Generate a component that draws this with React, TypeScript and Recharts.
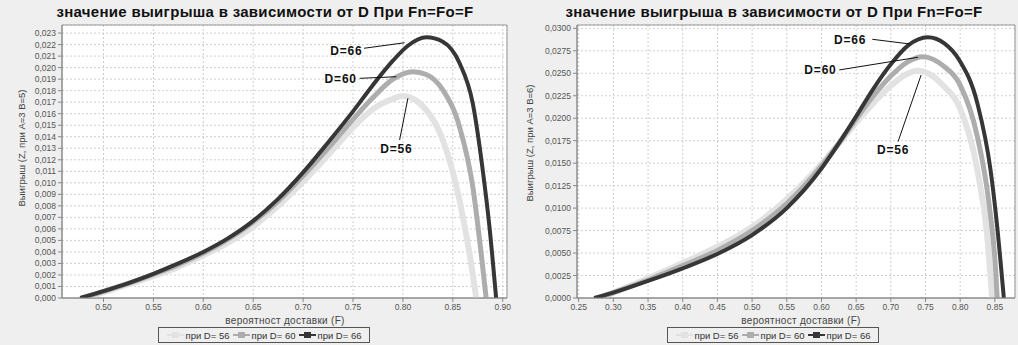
import React from 'react';
import { LineChart, Line, XAxis, YAxis, CartesianGrid, ReferenceLine, ReferenceDot, ReferenceArea } from 'recharts';

const TITLE = 'значение выигрыша в зависимости от D При Fn=Fo=F';
const X_LABEL = 'вероятност доставки (F)';
const Y_LABEL_L = 'Выигрыш (Z, при A=3 B=5)';
const Y_LABEL_R = 'Выигрыш (Z, при A=3 B=6)';
const SERIES_NAMES = ['при D= 56', 'при D= 60', 'при D= 66'];
const SERIES_COLORS = ['#e2e2e2', '#adadad', '#363636'];
const SERIES_WIDTHS = [6, 5, 4];

// ---- left chart (A=3, B=5) ----
const L_F56 = [0.482, 0.5, 0.525, 0.55, 0.575, 0.6, 0.625, 0.65, 0.675, 0.7, 0.725, 0.75, 0.77, 0.79, 0.8, 0.8234, 0.84, 0.8567, 0.8667, 0.8734];
const L_Z56 = [0, 0.0005, 0.0012, 0.0019, 0.0027, 0.0037, 0.0048, 0.0062, 0.008, 0.0101, 0.0124, 0.0148, 0.0164, 0.0173, 0.01753, 0.01632, 0.01372, 0.0085, 0.00388, 0];
const L_F60 = [0.478, 0.5, 0.525, 0.55, 0.575, 0.6, 0.625, 0.65, 0.675, 0.7, 0.725, 0.75, 0.77, 0.79, 0.81, 0.8234, 0.84, 0.8567, 0.87, 0.8784, 0.8834];
const L_Z60 = [0, 0.00058, 0.00127, 0.00205, 0.0029, 0.0039, 0.0051, 0.0066, 0.0084, 0.0106, 0.013, 0.0155, 0.0174, 0.019, 0.01965, 0.0194, 0.01806, 0.01487, 0.00966, 0.00388, 0];
const L_F66 = [0.4767, 0.5, 0.525, 0.55, 0.575, 0.6, 0.625, 0.65, 0.675, 0.7, 0.725, 0.75, 0.77, 0.79, 0.805, 0.8234, 0.84, 0.8567, 0.87, 0.88, 0.8867, 0.8934];
const L_Z66 = [0, 0.0006, 0.0013, 0.0021, 0.003, 0.004, 0.0052, 0.0067, 0.0086, 0.0109, 0.0135, 0.0162, 0.0185, 0.0206, 0.0219, 0.02263, 0.02225, 0.0204, 0.0169, 0.0111, 0.0062, 0];
const L_XDOMAIN = [0.4584, 0.9043];
const L_YDOMAIN = [0, 0.0237];
const L_XTICKS = [0.5, 0.55, 0.6, 0.65, 0.7, 0.75, 0.8, 0.85, 0.9];
const L_YTICKS = [0, 0.001, 0.002, 0.003, 0.004, 0.005, 0.006, 0.007, 0.008, 0.009, 0.01, 0.011, 0.012, 0.013, 0.014, 0.015, 0.016, 0.017, 0.018, 0.019, 0.02, 0.021, 0.022, 0.023];
const L_ANN = [
  { label: 'D=66', tx: 0.7434, ty: 0.02147, x1: 0.761, y1: 0.02168, x2: 0.8017, y2: 0.02216 },
  { label: 'D=60', tx: 0.7377, ty: 0.01907, x1: 0.7567, y1: 0.01907, x2: 0.7934, y2: 0.01921 },
  { label: 'D=56', tx: 0.7934, ty: 0.013, x1: 0.7967, y1: 0.01372, x2: 0.805, y2: 0.01734 },
];

// ---- right chart (A=3, B=6) ----
const R_F56 = [0.28, 0.3, 0.35, 0.4, 0.45, 0.5, 0.55, 0.6, 0.625, 0.65, 0.675, 0.7, 0.72, 0.739, 0.76, 0.7771, 0.7986, 0.8247, 0.839, 0.8461];
const R_Z56 = [0, 0.0006, 0.0022, 0.0039, 0.0057, 0.0079, 0.011, 0.0149, 0.0172, 0.0195, 0.0217, 0.0236, 0.0248, 0.02529, 0.0247, 0.02351, 0.0213, 0.01426, 0.00685, 0];
const R_F60 = [0.277, 0.3, 0.35, 0.4, 0.45, 0.5, 0.55, 0.6, 0.625, 0.65, 0.675, 0.7, 0.725, 0.746, 0.7771, 0.7986, 0.8247, 0.8414, 0.851, 0.8533];
const R_Z60 = [0, 0.0006, 0.002, 0.0036, 0.0053, 0.0075, 0.0105, 0.0147, 0.0172, 0.0199, 0.0225, 0.0247, 0.0263, 0.02685, 0.02574, 0.02389, 0.01796, 0.01056, 0.00315, 0];
const R_F66 = [0.2723, 0.3, 0.35, 0.4, 0.45, 0.5, 0.55, 0.6, 0.625, 0.65, 0.675, 0.7, 0.725, 0.7533, 0.7771, 0.7986, 0.8247, 0.8437, 0.8533, 0.8629];
const R_Z66 = [0, 0.0006, 0.0019, 0.0033, 0.0049, 0.007, 0.01, 0.0144, 0.0172, 0.0202, 0.0233, 0.026, 0.0281, 0.029, 0.02833, 0.02648, 0.02167, 0.01426, 0.00796, 0];
const R_XDOMAIN = [0.2476, 0.879];
const R_YDOMAIN = [0, 0.03037];
const R_XTICKS = [0.25, 0.3, 0.35, 0.4, 0.45, 0.5, 0.55, 0.6, 0.65, 0.7, 0.75, 0.8, 0.85];
const R_YTICKS = [0, 0.0025, 0.005, 0.0075, 0.01, 0.0125, 0.015, 0.0175, 0.02, 0.0225, 0.025, 0.0275, 0.03];
const R_ANN = [
  { label: 'D=66', tx: 0.6414, ty: 0.0287, x1: 0.6733, y1: 0.02878, x2: 0.7271, y2: 0.02826 },
  { label: 'D=60', tx: 0.5986, ty: 0.02537, x1: 0.6257, y1: 0.02537, x2: 0.739, y2: 0.02678 },
  { label: 'D=56', tx: 0.7033, ty: 0.01648, x1: 0.7104, y1: 0.0174, x2: 0.7437, y2: 0.02481 },
];

const zip = (fs: number[], zs: number[]) => fs.map((f, i) => ({ f, z: zs[i] }));

const FONT = '"Liberation Sans", Arial, sans-serif';

type Ann = { label: string; tx: number; ty: number; x1: number; y1: number; x2: number; y2: number };

function Panel(props: {
  left: number; width: number; yAxisWidth: number; marginRight: number;
  series: { f: number; z: number }[][];
  xDomain: number[]; yDomain: number[]; xTicks: number[]; yTicks: number[]; yDigits: number;
  ann: Ann[]; yLabel: string; yLabelX: number; yLabelY: number; xLabelCenter: number;
}) {
  const { left, width } = props;
  return (
    <div style={{ position: 'absolute', left, top: 0, width, height: 345 }}>
      <div style={{ position: 'absolute', left: 265 - 300, width: 600, top: 3, textAlign: 'center', fontFamily: FONT, fontWeight: 'bold', fontSize: 15, letterSpacing: 0.3, color: '#111', whiteSpace: 'nowrap' }}>{TITLE}</div>
      <LineChart width={width} height={345} margin={{ top: 25, right: props.marginRight, left: 0, bottom: 22 }}>
        <CartesianGrid stroke="#cfcfcf" strokeDasharray="2 2" fill="#ffffff" />
        <XAxis type="number" dataKey="f" domain={props.xDomain} ticks={props.xTicks} allowDataOverflow interval={0}
          tickFormatter={(v: number) => v.toFixed(2)} height={25} tickSize={4} tickMargin={2}
          axisLine={{ stroke: '#888' }} tickLine={{ stroke: '#888' }}
          tick={{ fontSize: 8.5, fill: '#555', fontFamily: FONT }} />
        <YAxis type="number" domain={props.yDomain} ticks={props.yTicks} allowDataOverflow interval={0} width={props.yAxisWidth}
          tickFormatter={(v: number) => v.toFixed(props.yDigits).replace('.', ',')} tickSize={4} tickMargin={2}
          axisLine={{ stroke: '#888' }} tickLine={{ stroke: '#888' }}
          tick={{ fontSize: 8.5, fill: '#555', fontFamily: FONT }} />
        {props.series.map((d, i) => (
          <Line key={i} data={d} dataKey="z" type="monotone" stroke={SERIES_COLORS[i]} strokeWidth={SERIES_WIDTHS[i]} dot={false} isAnimationActive={false} />
        ))}
        {props.ann.map((a) => (
          <ReferenceLine key={'l' + a.label} segment={[{ x: a.x1, y: a.y1 }, { x: a.x2, y: a.y2 }]} stroke="#111" strokeWidth={1} ifOverflow="visible" />
        ))}
        {props.ann.map((a) => (
          <ReferenceDot key={'d' + a.label} x={a.tx} y={a.ty} r={0} fill="none" stroke="none" ifOverflow="visible"
            label={{ value: a.label, position: 'center', fontSize: 12, fontWeight: 'bold', fill: '#111', fontFamily: FONT, letterSpacing: 0.8 }} />
        ))}
        <ReferenceArea x1={props.xDomain[0]} x2={props.xDomain[1]} y1={props.yDomain[0]} y2={props.yDomain[1]} fill="none" stroke="#999" strokeWidth={1} ifOverflow="visible" />
      </LineChart>
      <div style={{ position: 'absolute', left: props.yLabelX - 100, top: props.yLabelY - 7, width: 200, height: 14, textAlign: 'center', transform: 'rotate(-90deg)', fontFamily: FONT, fontSize: 9.5, color: '#444', whiteSpace: 'nowrap', lineHeight: '14px' }}>{props.yLabel}</div>
      <div style={{ position: 'absolute', left: props.xLabelCenter - 100, top: 315, width: 200, textAlign: 'center', fontFamily: FONT, fontSize: 10, color: '#444', whiteSpace: 'nowrap', letterSpacing: 0.3 }}>{X_LABEL}</div>
      <div style={{ position: 'absolute', left: 158, top: 327, width: 212, height: 16, border: '1px solid #555', display: 'flex', alignItems: 'center', justifyContent: 'center', fontFamily: FONT, fontSize: 9.5, color: '#333', whiteSpace: 'nowrap', boxSizing: 'border-box' }}>
        {SERIES_NAMES.map((n, i) => (
          <span key={n} style={{ display: 'inline-flex', alignItems: 'center', marginRight: i < 2 ? 3 : 0 }}>
            <svg width={17} height={10} style={{ marginRight: 2 }}>
              <line x1={0} y1={5} x2={17} y2={5} stroke={SERIES_COLORS[i]} strokeWidth={2} />
              <rect x={5} y={2} width={7} height={6} fill={SERIES_COLORS[i]} />
            </svg>
            {n}
          </span>
        ))}
      </div>
    </div>
  );
}

export default function App() {
  const left = [zip(L_F56, L_Z56), zip(L_F60, L_Z60), zip(L_F66, L_Z66)];
  const right = [zip(R_F56, R_Z56), zip(R_F60, R_Z60), zip(R_F66, R_Z66)];
  return (
    <div style={{ position: 'absolute', left: 0, top: 0, width: 1018, height: 345, background: '#efefef', overflow: 'hidden' }}>
      <Panel left={0} width={520} yAxisWidth={62} marginRight={13} series={left} xDomain={L_XDOMAIN} yDomain={L_YDOMAIN}
        xTicks={L_XTICKS} yTicks={L_YTICKS} yDigits={3} ann={L_ANN} yLabel={Y_LABEL_L} yLabelX={22} yLabelY={148} xLabelCenter={285} />
      <Panel left={509} width={509} yAxisWidth={68} marginRight={3} series={right} xDomain={R_XDOMAIN} yDomain={R_YDOMAIN}
        xTicks={R_XTICKS} yTicks={R_YTICKS} yDigits={4} ann={R_ANN} yLabel={Y_LABEL_R} yLabelX={21} yLabelY={143} xLabelCenter={292} />
    </div>
  );
}
